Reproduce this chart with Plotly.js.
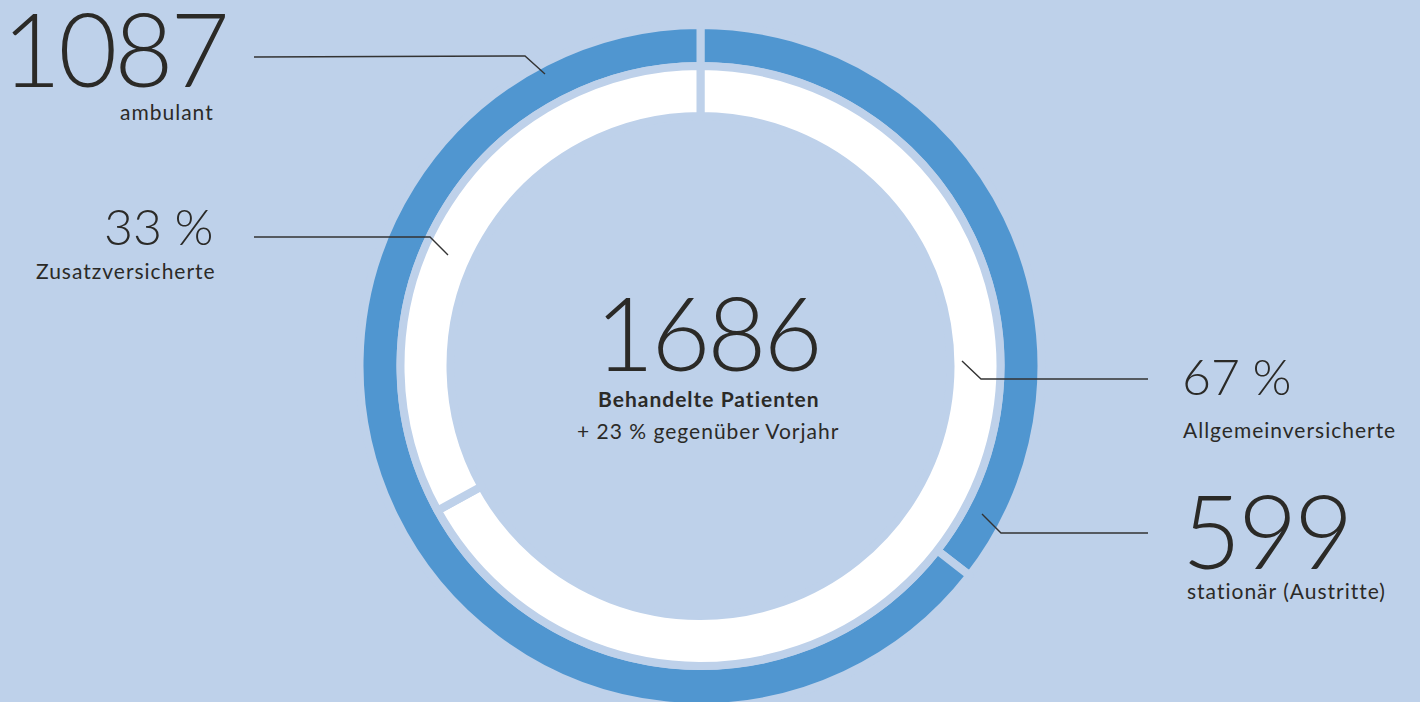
<!DOCTYPE html>
<html>
<head>
<meta charset="utf-8">
<script src="https://cdn.plot.ly/plotly-3.0.1.min.js"></script>
<style>
html,body{margin:0;padding:0;background:#bed1ea;overflow:hidden;}
#wrap{width:1420px;height:702px;overflow:hidden;}
#chart{width:1420px;height:740px;}
</style>
</head>
<body>
<div id="wrap"><div id="chart"></div></div>
<script>
// ---- data ----
const outerLabels = ['stationär (Austritte)', 'ambulant'];
const outerValues = [599, 1087];
const innerLabels = ['Allgemeinversicherte', 'Zusatzversicherte'];
const innerValues = [67, 33];
const totalPatients = 1686;
const totalLabel = 'Behandelte Patienten';
const changeLabel = '+ 23 % gegenüber Vorjahr';

// ---- layout helpers ----
const W = 1420, H = 740;
const BG = '#bed1ea', BLUE = '#5096d0', INK = '#2b2a27';
const px = x => x / W;
const py = y => (H - y) / H;
const cx = 700.5, cy = 366;
function dom(r) { return {x: [px(cx - r), px(cx + r)], y: [py(cy + r), py(cy - r)]}; }

const outer = {
  type: 'pie', values: outerValues, labels: outerLabels, sort: false,
  direction: 'clockwise', rotation: 0, hole: 300 / 341,
  domain: dom(341), textinfo: 'none', hoverinfo: 'label+value',
  marker: {colors: [BLUE, BLUE], line: {color: BG, width: 8}}, showlegend: false
};
const inner = {
  type: 'pie', values: innerValues, labels: innerLabels, sort: false,
  direction: 'clockwise', rotation: 0, hole: 250 / 300,
  domain: dom(300), textinfo: 'none', hoverinfo: 'label+percent',
  marker: {colors: ['#ffffff', '#ffffff'], line: {color: BG, width: 8}}, showlegend: false
};

const F = 'Lato, "Open Sans", sans-serif';
function ann(text, x, y, size, xanchor, weight, spacing) {
  return {text: '<span style="letter-spacing:' + spacing + 'px">' + text + '</span>',
    x: px(x), y: py(y), xref: 'paper', yref: 'paper', showarrow: false,
    xanchor: xanchor, yanchor: 'middle',
    font: {family: F, size: size, color: INK, weight: weight || 400}};
}
const annotations = [
  ann(String(outerValues[1]), 229, 47, 102, 'right', 300, -3),
  ann(outerLabels[1], 216, 111, 21, 'right', 400, 1),
  ann(innerValues[1] + '\u202F%', 215, 226, 50, 'right', 300, -1),
  ann(innerLabels[1], 218, 270, 21, 'right', 400, 1),
  ann(String(totalPatients), 707, 331, 102, 'center', 300, -3),
  ann('<b>' + totalLabel + '</b>', 709, 398, 21, 'center', 700, 1),
  ann(changeLabel, 708, 431, 21, 'center', 400, 1),
  ann(innerValues[0] + '\u202F%', 1180, 376, 50, 'left', 300, -1),
  ann(innerLabels[0], 1181, 429, 21, 'left', 400, 1),
  ann(String(outerValues[0]), 1180, 529, 102, 'left', 300, -3),
  ann(outerLabels[0], 1185, 590, 21, 'left', 400, 1)
];

function leader(pts) {
  let d = pts.map((p, i) => (i ? 'L' : 'M') + px(p[0]) + ',' + py(p[1])).join(' ');
  return {type: 'path', path: d, xref: 'paper', yref: 'paper', line: {color: '#333333', width: 1.4}};
}
const shapes = [
  leader([[254, 57], [525, 56], [545, 74]]),
  leader([[254, 237], [430, 237], [448, 255]]),
  leader([[962, 361], [981, 379], [1148, 379]]),
  leader([[982, 514], [1001, 533], [1148, 533]])
];

Plotly.newPlot('chart', [outer, inner], {
  width: W, height: H, margin: {l: 0, r: 0, t: 0, b: 0},
  paper_bgcolor: BG, plot_bgcolor: BG, showlegend: false,
  annotations: annotations, shapes: shapes
}, {displayModeBar: false, responsive: false});
</script>
</body>
</html>
